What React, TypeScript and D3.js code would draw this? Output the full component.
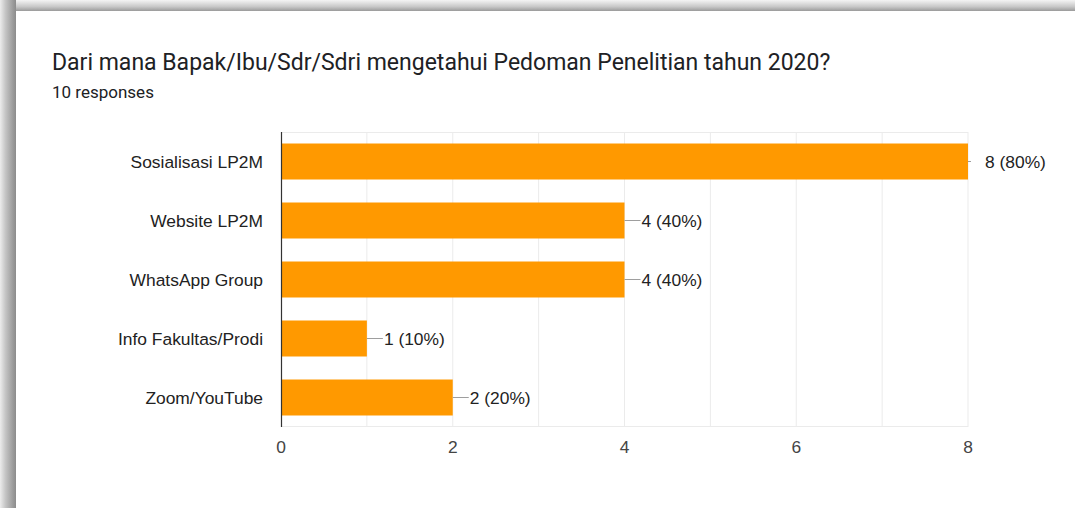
import React from "react";
import * as d3 from "d3";

const title = "Dari mana Bapak/Ibu/Sdr/Sdri mengetahui Pedoman Penelitian tahun 2020?";
const subtitle = "10 responses";
const categories = ["Sosialisasi LP2M", "Website LP2M", "WhatsApp Group", "Info Fakultas/Prodi", "Zoom/YouTube"];
const values = [8, 4, 4, 1, 2];
const totalResponses = 10;
const xTicks = [0, 2, 4, 6, 8];
const gridValues = [1, 2, 3, 4, 5, 6, 7, 8];

const W = 1075;
const H = 508;

export default function App() {
  const x = d3.scaleLinear().domain([0, 8]).range([281, 968]);
  const y = d3.scaleBand<string>().domain(categories).range([132, 427]).paddingInner(0.39).paddingOuter(0.195);
  const maxV = d3.max(values) as number;
  const labelFont = "Arial, 'Liberation Sans', sans-serif";
  return (
    <svg width={W} height={H} style={{ position: "absolute", left: 0, top: 0, display: "block" }}>
      <defs>
        <linearGradient id="topShadow" x1="0" y1="0" x2="0" y2="1">
          <stop offset="0" stopColor="#f4f4f4" />
          <stop offset="0.6" stopColor="#c8c8c8" />
          <stop offset="1" stopColor="#9a9a9a" />
        </linearGradient>
        <linearGradient id="leftShadow" x1="0" y1="0" x2="1" y2="0">
          <stop offset="0" stopColor="#ececec" />
          <stop offset="0.35" stopColor="#c4c4c4" />
          <stop offset="0.8" stopColor="#9c9c9c" />
          <stop offset="1" stopColor="#8c8c8c" />
        </linearGradient>
      </defs>
      <rect x={0} y={0} width={W} height={H} fill="#ffffff" />
      <rect x={0} y={0} width={W} height={11} fill="url(#topShadow)" />
      <rect x={0} y={0} width={16} height={H} fill="url(#leftShadow)" />
      <rect x={16} y={11} width={W - 16} height={H - 11} fill="#ffffff" />

      <text x={52} y={70} fontFamily="Roboto, sans-serif" fontSize={23} fill="#202124">{title}</text>
      <text x={52} y={98} fontFamily="Roboto, sans-serif" fontSize={17} fill="#202124">{subtitle}</text>

      {gridValues.map((g) => (
        <line key={g} x1={x(g)} x2={x(g)} y1={132} y2={427} stroke="#ebebeb" strokeWidth={1} />
      ))}
      <line x1={281} x2={968} y1={132.5} y2={132.5} stroke="#ebebeb" />
      <line x1={281} x2={968} y1={426.5} y2={426.5} stroke="#ebebeb" />

      {categories.map((c, i) => {
        const v = values[i];
        const by = y(c) as number;
        const bh = y.bandwidth();
        const cy = by + bh / 2;
        const xe = x(v);
        const lineEnd = v === maxV ? xe + 3 : xe + 16;
        return (
          <g key={c}>
            <rect x={x(0)} y={by} width={xe - x(0)} height={bh} fill="#ff9900" />
            <line x1={xe} x2={lineEnd} y1={cy} y2={cy} stroke="#9e9e9e" strokeWidth={1} />
            <text x={xe + 17} y={cy + 6} fontFamily={labelFont} fontSize={17.4} fill="#222222">
              {`${v} (${Math.round((v / totalResponses) * 100)}%)`}
            </text>
            <text x={263} y={cy + 6} textAnchor="end" fontFamily={labelFont} fontSize={17.4} fill="#222222">
              {c}
            </text>
          </g>
        );
      })}
      <line x1={281.5} x2={281.5} y1={132} y2={427} stroke="#333333" strokeWidth={1.2} />

      {xTicks.map((t) => (
        <text key={t} x={x(t)} y={453} textAnchor="middle" fontFamily={labelFont} fontSize={17.4} fill="#444444">
          {t}
        </text>
      ))}
    </svg>
  );
}
